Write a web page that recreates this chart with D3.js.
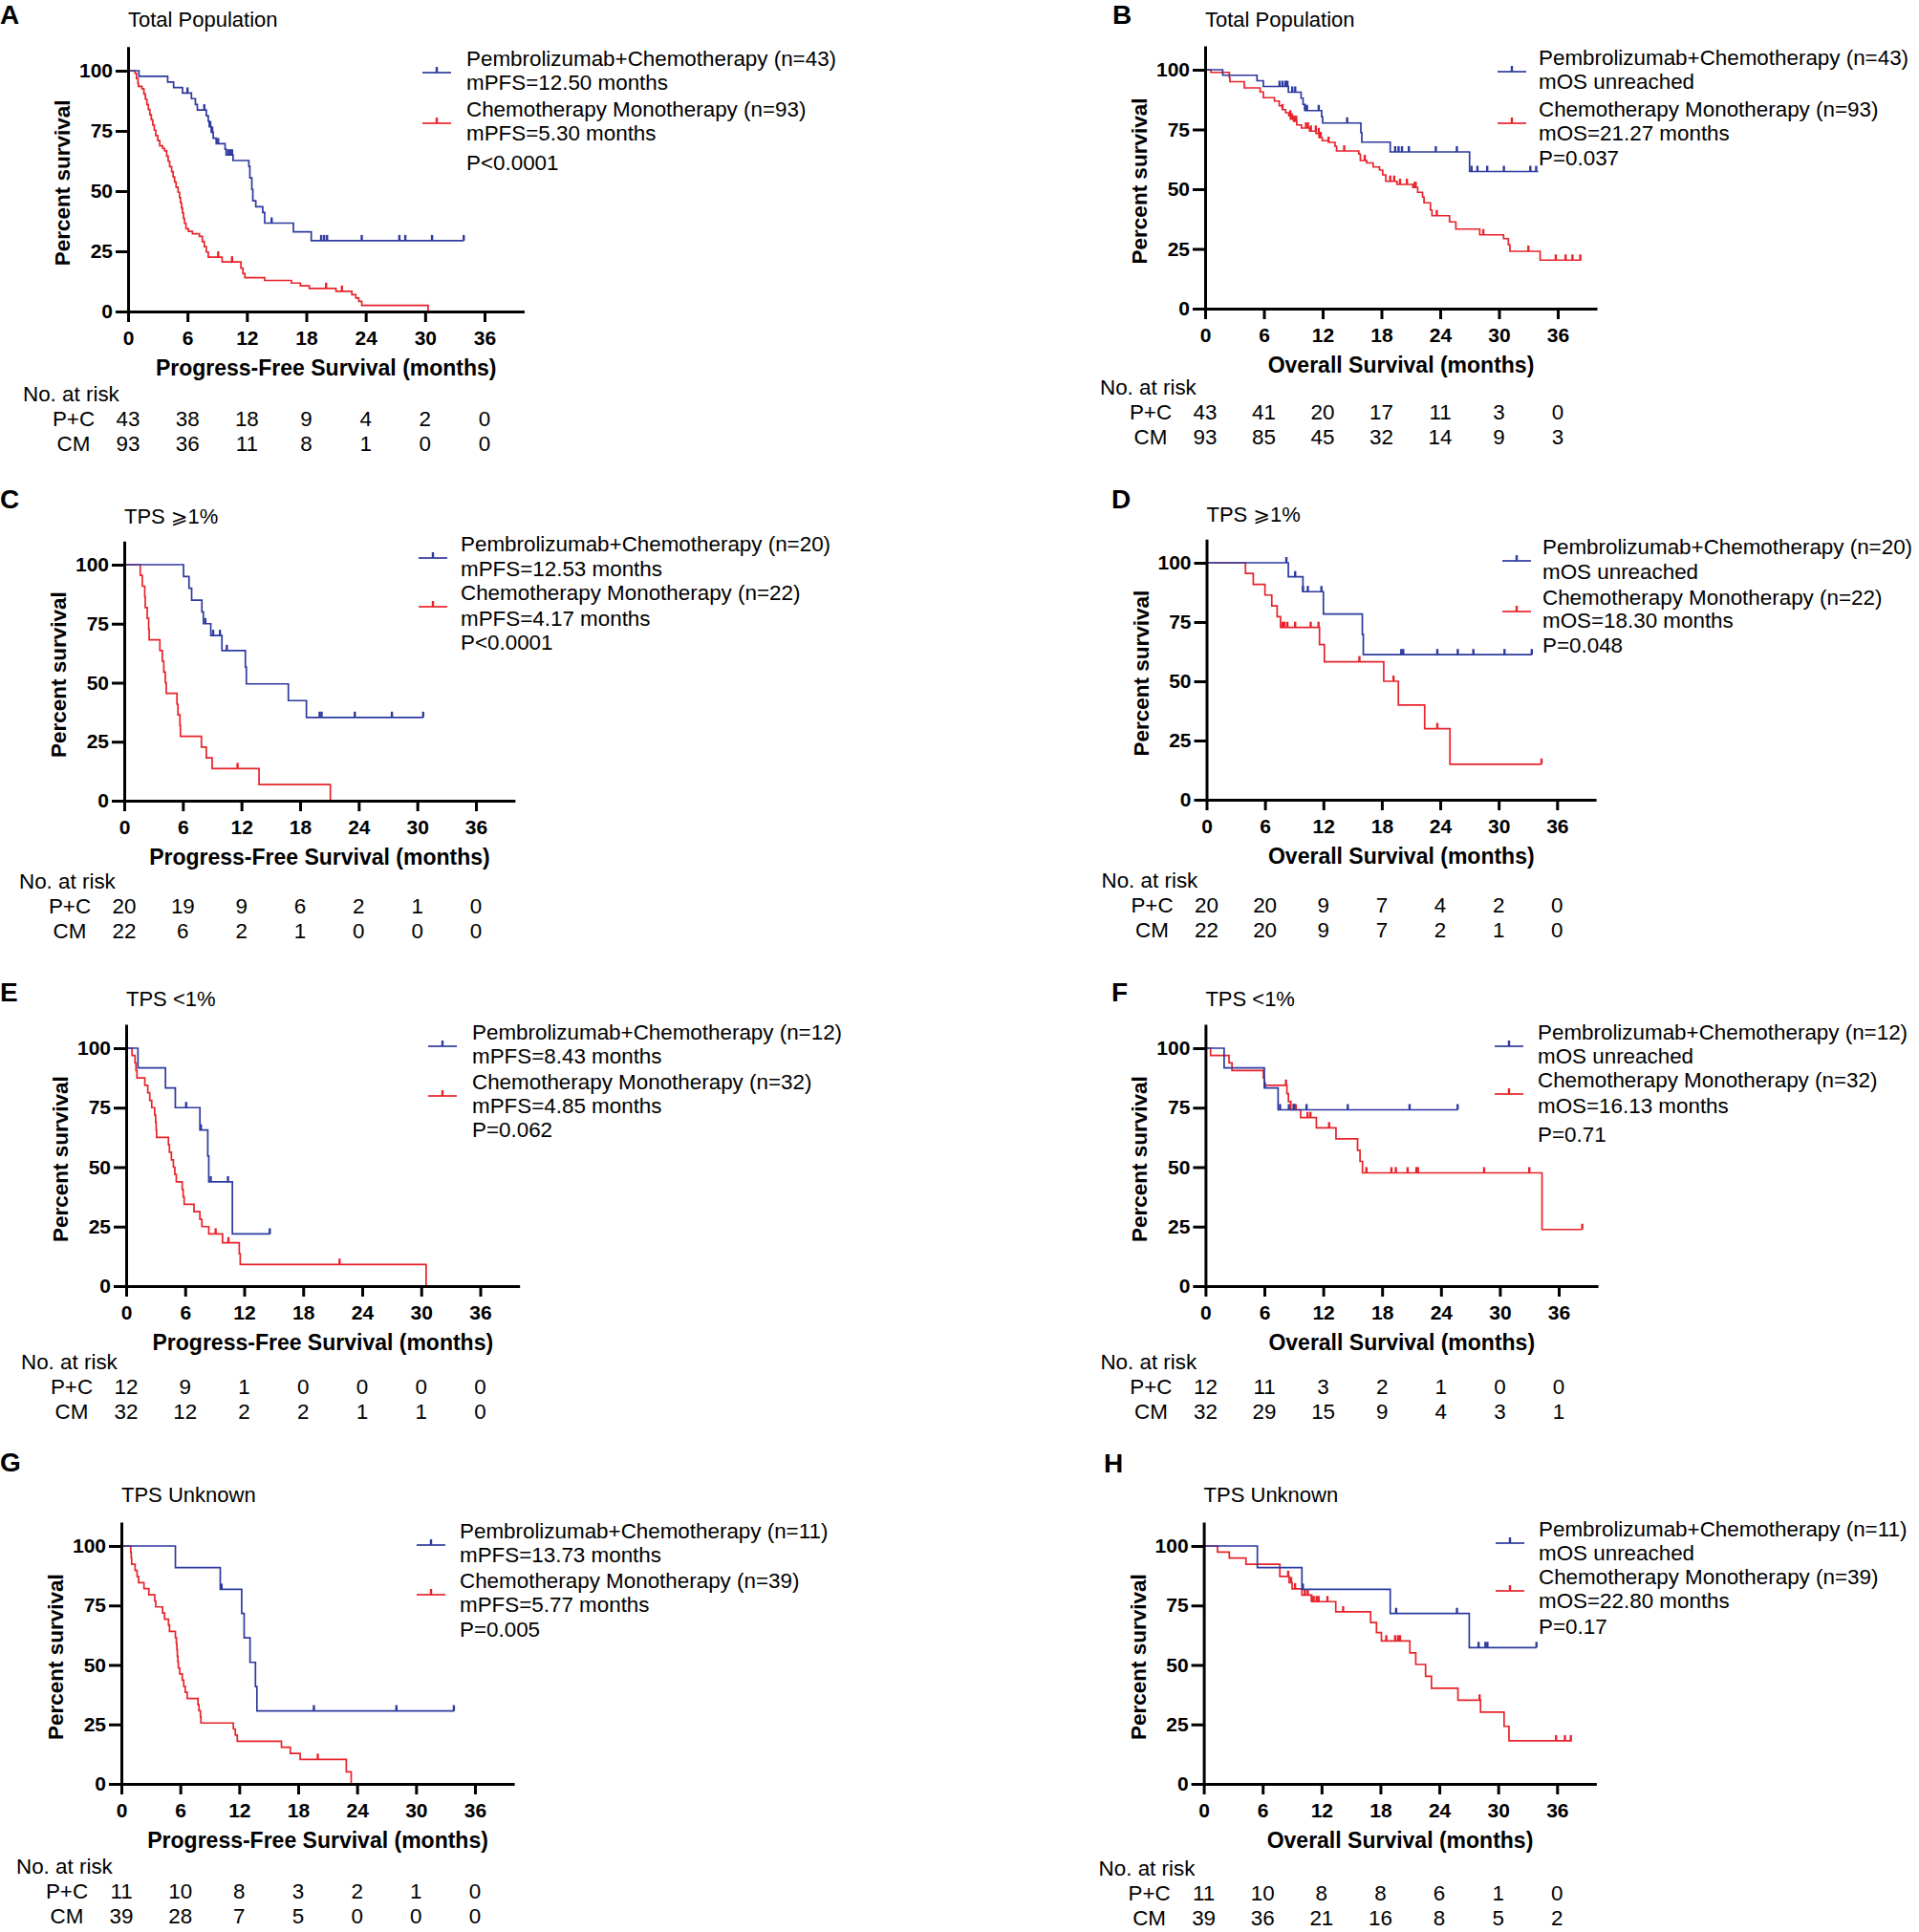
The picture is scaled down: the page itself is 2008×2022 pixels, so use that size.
<!DOCTYPE html>
<html>
<head>
<meta charset="utf-8">
<script src="https://cdn.jsdelivr.net/npm/d3@7"></script>
<style>
  body { margin: 0; background: #fff; }
  svg { display: block; font-family: "Liberation Sans", Arial, sans-serif; }
</style>
</head>
<body>
<svg id="chart" width="2008" height="2022"></svg>
<script>
// shared ticks
const monthTicks = [0, 6, 12, 18, 24, 30, 36];
const pctTicks = [0, 25, 50, 75, 100];
const riskLabels = ["P+C", "CM"];

// ---- A: PFS, total population ----
const aPcSteps = [[1.1,97.7],[4.0,95.3],[4.6,93.0],[5.5,90.7],[6.4,88.4],[6.8,86.0],[7.0,83.7],[7.9,81.3],[8.1,79.0],[8.2,76.7],[8.4,74.4],[8.6,72.0],[8.9,69.7],[9.8,67.4],[9.9,65.0],[10.6,62.7],[12.2,60.3],[12.3,55.5],[12.5,50.7],[12.6,46.0],[12.9,43.5],[13.6,41.1],[13.8,36.7],[16.7,33.1],[18.5,29.4]];
const aPcCensor = [6.0,7.7,8.3,8.5,9.1,10.1,10.3,10.5,14.5,19.5,19.8,20.1,23.6,27.4,28.0,30.7,33.9];
const aPcEnd = 33.9;
const aCmSteps = [[0.7,98.9],[0.85,96.8],[1.0,94.6],[1.05,93.5],[1.4,92.5],[1.6,90.3],[1.75,88.2],[1.9,86.0],[2.05,83.9],[2.2,81.7],[2.35,79.6],[2.5,77.4],[2.65,75.3],[2.8,73.1],[3.0,71.0],[3.2,68.8],[3.5,67.7],[3.7,66.7],[3.9,64.5],[4.05,62.4],[4.2,60.2],[4.4,58.1],[4.55,55.9],[4.7,53.8],[4.85,51.6],[5.05,49.5],[5.2,47.3],[5.3,45.2],[5.4,43.0],[5.5,40.9],[5.6,38.7],[5.7,36.6],[5.85,34.4],[6.1,33.3],[6.5,32.3],[7.2,31.2],[7.5,29.0],[7.7,26.9],[7.9,24.7],[8.1,22.6],[9.5,20.6],[11.4,18.0],[11.6,15.7],[11.8,14.0],[13.8,12.9],[16.5,11.8],[17.4,10.7],[18.3,9.6],[21.0,8.4],[22.6,7.0],[23.0,5.6],[23.3,4.2],[23.6,2.5],[30.3,0]];
const aCmCensor = [9.1,10.5,20.0,21.6];
const aCmEnd = 30.3;
const aPcRisk = [43,38,18,9,4,2,0];
const aCmRisk = [93,36,11,8,1,0,0];
const aLegend = ["Pembrolizumab+Chemotherapy (n=43)","mPFS=12.50 months","Chemotherapy Monotherapy (n=93)","mPFS=5.30 months","P<0.0001"];

// ---- B: OS, total population ----
const bPcSteps = [[1.8,97.7],[5.3,95.4],[5.95,93.0],[8.5,90.6],[9.8,88.1],[10.0,85.5],[10.2,82.9],[11.9,80.3],[12.0,77.7],[15.9,73.7],[16.0,69.7],[18.9,65.6],[27.0,57.4]];
const bPcCensor = [7.6,7.9,8.2,8.4,8.9,9.2,10.2,10.4,11.6,14.5,19.4,19.75,20.1,20.8,23.55,25.7,27.2,27.8,28.8,30.5,33.2,33.8];
const bPcEnd = 34.0;
const bCmSteps = [[0.58,98.9],[2.47,96.7],[2.53,95.0],[4.0,92.4],[5.62,90.7],[5.95,88.3],[7.08,86.9],[7.57,84.9],[7.9,83.3],[8.22,82.0],[8.54,80.7],[8.71,79.3],[9.03,78.4],[9.36,76.9],[9.84,75.6],[10.66,74.3],[11.31,73.3],[11.63,71.6],[11.96,70.3],[12.6,69.6],[13.26,68.0],[13.42,66.0],[15.69,64.7],[15.85,62.0],[16.5,61.0],[17.15,59.3],[17.8,58.0],[18.13,56.0],[18.45,53.3],[19.59,52.0],[21.2,50.7],[21.7,48.7],[22.2,46.7],[22.35,44.3],[23.0,41.3],[23.16,38.9],[24.95,36.3],[25.6,33.3],[28.04,30.9],[30.47,29.3],[30.96,26.7],[31.12,24.0],[34.2,20.3]];
const bCmCensor = [7.9,8.7,8.87,9.1,9.3,10.3,10.5,10.8,11.3,11.6,11.8,12.6,14.2,16.3,18.9,19.3,19.9,20.6,21.4,21.5,23.65,28.4,33.0,35.8,36.8,37.5,38.3];
const bCmEnd = 38.4;
const bPcRisk = [43,41,20,17,11,3,0];
const bCmRisk = [93,85,45,32,14,9,3];
const bLegend = ["Pembrolizumab+Chemotherapy (n=43)","mOS unreached","Chemotherapy Monotherapy (n=93)","mOS=21.27 months","P=0.037"];

// ---- C: PFS, TPS >=1% ----
const cPcSteps = [[6.07,95],[6.63,90],[6.9,85],[7.95,80],[8.1,75],[8.86,70],[10.0,63.6],[12.4,56.6],[12.5,49.5],[16.8,42.4],[18.65,35.3]];
const cPcCensor = [8.3,9.1,9.8,10.5,20.0,20.2,23.6,27.4,30.6];
const cPcEnd = 30.6;
const cCmSteps = [[1.64,95.5],[1.85,90.9],[2.1,86.4],[2.15,81.8],[2.35,77.3],[2.5,72.7],[2.55,68.2],[3.65,63.6],[3.9,59.1],[4.05,54.5],[4.2,50.0],[4.3,45.5],[5.4,40.9],[5.5,36.4],[5.7,31.8],[5.75,27.3],[7.9,22.7],[8.4,18.2],[9.0,13.6],[13.8,6.8],[21.1,0]];
const cCmCensor = [11.6];
const cCmEnd = 21.1;
const cPcRisk = [20,19,9,6,2,1,0];
const cCmRisk = [22,6,2,1,0,0,0];
const cLegend = ["Pembrolizumab+Chemotherapy (n=20)","mPFS=12.53 months","Chemotherapy Monotherapy (n=22)","mPFS=4.17 months","P<0.0001"];

// ---- D: OS, TPS >=1% ----
const dPcSteps = [[8.4,94.1],[9.9,87.8],[12.0,78.4],[16.0,69.8],[16.1,61.2]];
const dPcCensor = [8.2,9.1,9.9,10.4,11.8,20.0,20.2,23.7,25.8,27.4,30.6,33.4];
const dPcEnd = 33.4;
const dCmSteps = [[4.0,95.5],[4.8,90.9],[6.0,86.4],[6.7,81.8],[7.25,77.3],[7.6,72.7],[11.6,65.5],[12.1,58.2],[18.2,50.0],[19.7,40.0],[22.4,30.0],[25.0,15.0]];
const dCmCensor = [7.8,8.0,8.3,9.1,10.7,11.5,15.7,19.2,23.7,34.4];
const dCmEnd = 34.4;
const dPcRisk = [20,20,9,7,4,2,0];
const dCmRisk = [22,20,9,7,2,1,0];
const dLegend = ["Pembrolizumab+Chemotherapy (n=20)","mOS unreached","Chemotherapy Monotherapy (n=22)","mOS=18.30 months","P=0.048"];

// ---- E: PFS, TPS <1% ----
const ePcSteps = [[1.2,91.7],[4.0,83.3],[5.0,75.0],[7.5,65.6],[8.3,54.7],[8.4,43.8],[10.8,21.9]];
const ePcCensor = [6.1,7.6,8.6,10.35,14.6];
const ePcEnd = 14.65;
const eCmSteps = [[0.6,96.9],[0.9,93.8],[1.0,90.6],[1.1,87.5],[1.9,84.4],[2.2,81.3],[2.4,78.1],[2.6,75.0],[2.9,71.9],[3.0,68.8],[3.05,65.6],[3.1,62.5],[4.3,59.4],[4.4,56.3],[4.6,53.1],[4.8,50.0],[4.95,46.9],[5.1,43.8],[5.7,40.6],[5.8,37.5],[5.9,34.4],[6.9,31.3],[7.5,28.1],[7.7,25.0],[8.4,21.9],[9.8,18.2],[11.5,13.6],[11.6,9.1],[30.5,0]];
const eCmCensor = [9.1,10.4,21.7];
const eCmEnd = 30.5;
const ePcRisk = [12,9,1,0,0,0,0];
const eCmRisk = [32,12,2,2,1,1,0];
const eLegend = ["Pembrolizumab+Chemotherapy (n=12)","mPFS=8.43 months","Chemotherapy Monotherapy (n=32)","mPFS=4.85 months","P=0.062"];

// ---- F: OS, TPS <1% ----
const fPcSteps = [[1.9,91.7],[6.0,83.3],[7.4,74.1]];
const fPcCensor = [6.05,7.6,8.5,9.0,10.3,14.5,20.8,25.7];
const fPcEnd = 25.7;
const fCmSteps = [[0.52,96.9],[2.4,93.8],[2.7,90.6],[5.9,87.5],[6.0,84.4],[8.3,80.9],[8.45,77.6],[8.7,74.1],[9.7,70.8],[11.3,66.5],[13.3,61.9],[15.5,57.1],[15.75,52.4],[16.0,47.6],[34.3,23.8]];
const fCmCensor = [8.2,9.0,9.1,9.2,10.4,10.7,12.6,16.4,18.95,19.4,20.6,21.5,21.65,28.4,33.0,38.4];
const fCmEnd = 38.4;
const fPcRisk = [12,11,3,2,1,0,0];
const fCmRisk = [32,29,15,9,4,3,1];
const fLegend = ["Pembrolizumab+Chemotherapy (n=12)","mOS unreached","Chemotherapy Monotherapy (n=32)","mOS=16.13 months","P=0.71"];

// ---- G: PFS, TPS unknown ----
const gPcSteps = [[5.5,90.9],[10.07,81.8],[12.25,71.6],[12.5,61.4],[13.1,51.1],[13.65,40.9],[13.8,30.7]];
const gPcCensor = [10.2,19.6,28.0,33.85];
const gPcEnd = 33.9;
const gCmSteps = [[0.95,97.4],[1.0,94.9],[1.05,92.3],[1.4,89.7],[1.6,87.2],[1.75,84.6],[2.3,82.1],[2.8,79.5],[3.4,76.9],[3.5,74.4],[4.2,71.8],[4.4,69.2],[4.8,66.7],[4.9,64.1],[5.5,61.5],[5.6,59.0],[5.65,56.4],[5.7,53.8],[5.75,51.3],[5.8,48.7],[5.95,46.2],[6.2,43.6],[6.35,41.0],[6.5,38.5],[6.7,35.9],[7.8,33.3],[7.9,30.8],[8.05,28.2],[8.1,25.6],[11.4,23.1],[11.6,20.5],[11.8,17.9],[16.3,15.4],[17.2,12.8],[18.2,10.3],[22.9,5.1],[23.4,0]];
const gCmCensor = [20.0];
const gCmEnd = 23.4;
const gPcRisk = [11,10,8,3,2,1,0];
const gCmRisk = [39,28,7,5,0,0,0];
const gLegend = ["Pembrolizumab+Chemotherapy (n=11)","mPFS=13.73 months","Chemotherapy Monotherapy (n=39)","mPFS=5.77 months","P=0.005"];

// ---- H: OS, TPS unknown ----
const hPcSteps = [[5.46,90.9],[10.0,81.8],[19.0,71.6],[27.05,57.3]];
const hPcCensor = [10.1,19.6,25.8,28.0,28.7,28.9,33.9];
const hPcEnd = 33.9;
const hCmSteps = [[1.4,97.4],[2.6,94.9],[4.3,92.3],[7.75,87.2],[8.7,84.6],[9.0,82.0],[10.0,79.4],[11.0,76.6],[13.45,72.3],[17.0,67.8],[17.6,63.6],[18.1,60.1],[21.0,55.1],[21.6,50.2],[22.6,45.2],[23.2,40.2],[25.9,35.2],[28.2,30.2],[30.6,24.2],[31.1,18.1]];
const hCmCensor = [8.6,8.9,9.3,10.3,10.6,11.0,11.2,11.5,11.7,12.6,14.2,18.6,19.5,19.8,20.0,28.1,35.9,36.8,37.4];
const hCmEnd = 37.5;
const hPcRisk = [11,10,8,8,6,1,0];
const hCmRisk = [39,36,21,16,8,5,2];
const hLegend = ["Pembrolizumab+Chemotherapy (n=11)","mOS unreached","Chemotherapy Monotherapy (n=39)","mOS=22.80 months","P=0.17"];

const PFS = "Progress-Free Survival (months)";
const OS = "Overall Survival (months)";
const BLUE = "#2d3a9f";
const RED = "#e8232b";
const GE = "\u2A7E"; // slanted greater-or-equal used in the titles

// panel placement (pixels); data comes from the arrays above
const layout = [
  { id: "A", title: ["Total Population"], xTitle: PFS, x0: 134, x36: 507, y0: 326, y100: 74, letter: [0, 25], titleY: 28,
    legX: 442, legTextX: 488, legY: [69, 94, 122, 147, 178], riskY: 94,
    pc: [aPcSteps, aPcCensor, aPcEnd, aPcRisk], cm: [aCmSteps, aCmCensor, aCmEnd, aCmRisk], legend: aLegend },
  { id: "B", title: ["Total Population"], xTitle: OS, x0: 1261, x36: 1630, y0: 323, y100: 73, letter: [1164, 25], titleY: 28,
    legX: 1567, legTextX: 1610, legY: [68, 93, 122, 147, 173], riskY: 90,
    pc: [bPcSteps, bPcCensor, bPcEnd, bPcRisk], cm: [bCmSteps, bCmCensor, bCmEnd, bCmRisk], legend: bLegend },
  { id: "C", title: ["TPS ", GE, "1%"], xTitle: PFS, x0: 130, x36: 498, y0: 838, y100: 591, letter: [0, 532], titleY: 548,
    legX: 438, legTextX: 482, legY: [577, 603, 628, 655, 680], riskY: 92,
    pc: [cPcSteps, cPcCensor, cPcEnd, cPcRisk], cm: [cCmSteps, cCmCensor, cCmEnd, cCmRisk], legend: cLegend },
  { id: "D", title: ["TPS ", GE, "1%"], xTitle: OS, x0: 1262.5, x36: 1629.3, y0: 837, y100: 589, letter: [1163, 532], titleY: 546,
    legX: 1572, legTextX: 1614, legY: [580, 606, 633, 657, 683], riskY: 92,
    pc: [dPcSteps, dPcCensor, dPcEnd, dPcRisk], cm: [dCmSteps, dCmCensor, dCmEnd, dCmRisk], legend: dLegend },
  { id: "E", title: ["TPS <1%"], xTitle: PFS, x0: 132, x36: 502.5, y0: 1346, y100: 1097, letter: [0, 1048], titleY: 1053,
    legX: 448, legTextX: 494, legY: [1088, 1113, 1140, 1165, 1190], riskY: 87,
    pc: [ePcSteps, ePcCensor, ePcEnd, ePcRisk], cm: [eCmSteps, eCmCensor, eCmEnd, eCmRisk], legend: eLegend },
  { id: "F", title: ["TPS <1%"], xTitle: OS, x0: 1261.4, x36: 1631, y0: 1346, y100: 1097, letter: [1163, 1048], titleY: 1053,
    legX: 1564, legTextX: 1609, legY: [1088, 1113, 1138, 1165, 1195], riskY: 87,
    pc: [fPcSteps, fPcCensor, fPcEnd, fPcRisk], cm: [fCmSteps, fCmCensor, fCmEnd, fCmRisk], legend: fLegend },
  { id: "G", title: ["TPS Unknown"], xTitle: PFS, x0: 127, x36: 497, y0: 1867, y100: 1618, letter: [0, 1540], titleY: 1572,
    legX: 436, legTextX: 481, legY: [1610, 1635, 1662, 1687, 1713], riskY: 94,
    pc: [gPcSteps, gPcCensor, gPcEnd, gPcRisk], cm: [gCmSteps, gCmCensor, gCmEnd, gCmRisk], legend: gLegend },
  { id: "H", title: ["TPS Unknown"], xTitle: OS, x0: 1259.6, x36: 1629.3, y0: 1867, y100: 1618, letter: [1155, 1541], titleY: 1572,
    legX: 1565, legTextX: 1610, legY: [1608, 1633, 1658, 1683, 1710], riskY: 96,
    pc: [hPcSteps, hPcCensor, hPcEnd, hPcRisk], cm: [hCmSteps, hCmCensor, hCmEnd, hCmRisk], legend: hLegend },
];

const svg = d3.select("#chart");
svg.append("rect").attr("width", 2008).attr("height", 2022).attr("fill", "#fff");

function survAt(steps, t) {
  let s = 100;
  for (const [st, sv] of steps) { if (st <= t) s = sv; else break; }
  return s;
}

function drawCurve(g, x, y, curve, color) {
  const [steps, censor, end] = curve;
  const pts = [[0, 100], ...steps, [end, survAt(steps, end)]];
  const line = d3.line().x(d => x(d[0])).y(d => y(d[1])).curve(d3.curveStepAfter);
  g.append("path").attr("d", line(pts)).attr("fill", "none")
    .attr("stroke", color).attr("stroke-width", 1.7);
  g.append("g").selectAll("line").data(censor).join("line")
    .attr("x1", d => x(d)).attr("x2", d => x(d))
    .attr("y1", d => y(survAt(steps, d))).attr("y2", d => y(survAt(steps, d)) - 6)
    .attr("stroke", color).attr("stroke-width", 2.4);
}

layout.forEach(p => {
  const pxm = (p.x36 - p.x0) / 36;
  const pxp = (p.y0 - p.y100) / 100;
  const x = d3.scaleLinear().domain([0, 40]).range([p.x0, p.x0 + 40 * pxm]);
  const y = d3.scaleLinear().domain([0, 110]).range([p.y0, p.y0 - 110 * pxp]);
  const g = svg.append("g");

  g.append("text").attr("x", p.letter[0]).attr("y", p.letter[1])
    .attr("font-size", 28).attr("font-weight", "bold").text(p.id);
  const title = g.append("text").attr("x", p.x0).attr("y", p.titleY).attr("font-size", 22);
  p.title.forEach(part => {
    const ts = title.append("tspan").text(part);
    if (part === GE) ts.attr("font-family", '"DejaVu Sans", sans-serif').attr("font-size", 21);
  });

  drawCurve(g, x, y, p.cm, RED);
  drawCurve(g, x, y, p.pc, BLUE);

  const yAxis = g.append("g").attr("transform", `translate(${p.x0},0)`)
    .call(d3.axisLeft(y).tickValues(pctTicks).tickSize(13).tickSizeOuter(0).tickPadding(3));
  const xAxis = g.append("g").attr("transform", `translate(0,${p.y0})`)
    .call(d3.axisBottom(x).tickValues(monthTicks).tickSize(11).tickSizeOuter(0).tickPadding(9));
  [yAxis, xAxis].forEach(a => {
    a.select(".domain").attr("stroke", "#000").attr("stroke-width", 3);
    a.selectAll(".tick line").attr("stroke", "#000").attr("stroke-width", 3);
    a.selectAll(".tick text").attr("font-size", 21).attr("font-weight", "bold")
      .attr("font-family", '"Liberation Sans", Arial, sans-serif').attr("fill", "#000");
  });

  g.append("text")
    .attr("transform", `translate(${p.x0 - 61},${(y(0) + y(110)) / 2 + 4}) rotate(-90)`)
    .attr("text-anchor", "middle").attr("font-size", 22.5).attr("font-weight", "bold")
    .text("Percent survival");
  g.append("text").attr("x", (x(0) + x(40)) / 2).attr("y", p.y0 + 67)
    .attr("text-anchor", "middle").attr("font-size", 23).attr("font-weight", "bold")
    .text(p.xTitle);

  // legend
  [[BLUE, p.legY[0] + 7], [RED, p.legY[2] + 7]].forEach(([c, ly]) => {
    g.append("line").attr("x1", p.legX).attr("x2", p.legX + 30).attr("y1", ly).attr("y2", ly)
      .attr("stroke", c).attr("stroke-width", 1.7);
    g.append("line").attr("x1", p.legX + 15).attr("x2", p.legX + 15).attr("y1", ly).attr("y2", ly - 6)
      .attr("stroke", c).attr("stroke-width", 2.4);
  });
  g.append("g").selectAll("text").data(p.legend).join("text")
    .attr("x", p.legTextX).attr("y", (d, i) => p.legY[i])
    .attr("font-size", 22.4).text(d => d);

  // number at risk
  const ty = p.y0 + p.riskY;
  g.append("text").attr("x", p.x0 - 110).attr("y", ty).attr("font-size", 22.4).text("No. at risk");
  [p.pc[3], p.cm[3]].forEach((row, r) => {
    const ry = ty + 26 * (r + 1);
    g.append("text").attr("x", p.x0 - 57).attr("y", ry).attr("text-anchor", "middle")
      .attr("font-size", 22.4).text(riskLabels[r]);
    g.append("g").selectAll("text").data(row).join("text")
      .attr("x", (d, i) => x(monthTicks[i])).attr("y", ry)
      .attr("text-anchor", "middle").attr("font-size", 22.4).text(d => d);
  });
});
</script>
</body>
</html>
